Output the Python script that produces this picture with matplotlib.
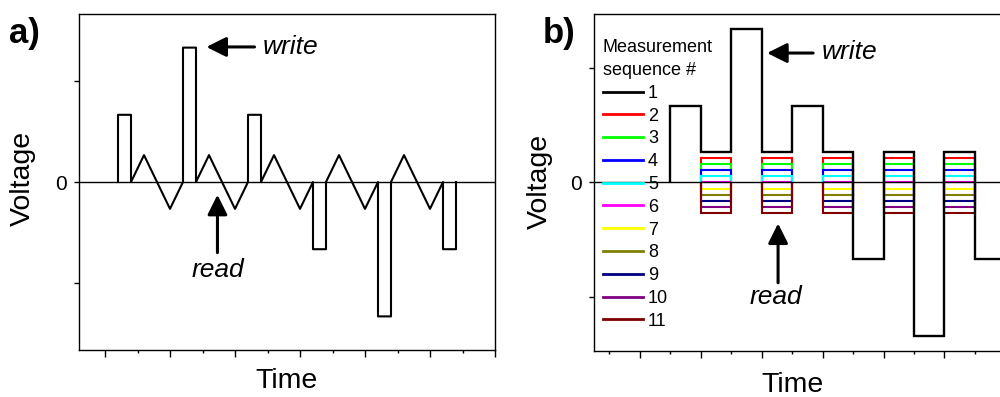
import numpy as np
import matplotlib.pyplot as plt
from matplotlib.ticker import MultipleLocator

plt.rcParams['font.family'] = ['Liberation Sans', 'DejaVu Sans']

# panel a: pulse train with triangular reads in between
pulse_levels_a = [2, 4, 2, -2, -4, -2]
pulse_starts_a = [0.2, 1.2, 2.2, 3.2, 4.2, 5.2]
pulse_width_a = 0.2
tri_amp_a = 0.8
tri_len_a = 0.8

# panel b: square read blocks, one level per measurement sequence
seg_edges_b = [0, 1, 2, 3, 4, 5, 6, 7, 8, 9, 10, 11]
black_levels_b = [2, 0.8, 4, 0.8, 2, 0.8, -2, 0.8, -4, 0.8, -2]
read_starts_b = [1, 3, 5, 7, 9]
read_levels = [0.8, 0.64, 0.48, 0.32, 0.16, 0.0, -0.16, -0.32, -0.48, -0.64, -0.8]
seq_labels = ['1', '2', '3', '4', '5', '6', '7', '8', '9', '10', '11']
seq_colors = ['#000000', '#ff0000', '#00ff00', '#0000ff', '#00ffff', '#ff00ff',
              '#ffff00', '#808000', '#000080', '#800080', '#800000']

fig = plt.figure(figsize=(10, 3.97), dpi=100)
ax_a = fig.add_axes([0.079, 0.1184, 0.416, 0.8463])
ax_b = fig.add_axes([0.594, 0.1159, 0.416, 0.8489])

# build panel a trace
ts, vs = [], []
for k, (t0, p) in enumerate(zip(pulse_starts_a, pulse_levels_a)):
    te = t0 + pulse_width_a
    ts += [t0, t0, te, te]
    vs += [0, p, p, 0]
    if k < len(pulse_levels_a) - 1:
        ts += [te + tri_len_a / 4, te + 3 * tri_len_a / 4, te + tri_len_a]
        vs += [tri_amp_a, -tri_amp_a, 0]
ax_a.plot(ts, vs, color='k', lw=1.5, zorder=3)

# panel b traces
handles = []
for i in range(1, len(read_levels)):
    for j, t0 in enumerate(read_starts_b):
        h = ax_b.stairs([read_levels[i]], [t0, t0 + 1], baseline=0,
                        color=seq_colors[i], lw=1.5, zorder=2)
        if j == 0:
            handles.append(h)
h1 = ax_b.stairs(black_levels_b, seg_edges_b, baseline=0, color='k', lw=1.7, zorder=3)
handles.insert(0, h1)

for ax in (ax_a, ax_b):
    ax.axhline(0, color='k', lw=1.0, zorder=4)
    for s in ax.spines.values():
        s.set_linewidth(1.0)
    ax.set_yticks([-3, 0, 3])
    ax.set_yticklabels(['', '0', ''])
    ax.tick_params(axis='y', direction='out', length=3.5, width=1.0, labelsize=15, pad=5)
    ax.tick_params(axis='x', which='major', direction='out', length=5, width=1.0, labelbottom=False)
    ax.tick_params(axis='x', which='minor', direction='out', length=2.5, width=1.0)
    ax.set_ylabel('Voltage', fontsize=20.5, va='center')
    ax.set_xlabel('Time', fontsize=20.5, va='center')

ax_a.set_xlim(-0.4, 6.0)
ax_a.set_ylim(-5, 5)
ax_a.xaxis.set_major_locator(MultipleLocator(1))
ax_a.xaxis.set_minor_locator(MultipleLocator(0.5))
ax_a.yaxis.set_label_coords(-0.1346, 0.512)
ax_a.xaxis.set_label_coords(0.5, -0.092)

ax_b.set_xlim(-2.5, 11.15)
ax_b.set_ylim(-4.4, 4.4)
ax_b.set_xticks([-1, 1, 3, 5, 7, 9, 11])
ax_b.set_xticks([-2, 0, 2, 4, 6, 8, 10], minor=True)
ax_b.yaxis.set_label_coords(-0.130, 0.504)
ax_b.xaxis.set_label_coords(0.478, -0.10)

# annotations
arrow = dict(arrowstyle='-|>,head_length=0.6,head_width=0.3', color='k', lw=2.2,
             mutation_scale=20, shrinkA=0, shrinkB=0)
ax_a.annotate('', xy=(1.56, 4.02), xytext=(2.30, 4.02), arrowprops=arrow)
ax_a.text(2.42, 3.81, 'write', fontsize=19, style='italic', ha='left', va='baseline')
ax_a.annotate('', xy=(1.73, -0.38), xytext=(1.73, -2.10), arrowprops=arrow)
ax_a.text(1.74, -2.84, 'read', fontsize=19, style='italic', ha='center', va='baseline')

ax_b.annotate('', xy=(3.18, 3.38), xytext=(4.69, 3.38), arrowprops=arrow)
ax_b.text(4.98, 3.22, 'write', fontsize=19, style='italic', ha='left', va='baseline')
ax_b.annotate('', xy=(3.54, -1.07), xytext=(3.54, -2.62), arrowprops=arrow)
ax_b.text(3.48, -3.17, 'read', fontsize=19, style='italic', ha='center', va='baseline')

leg = ax_b.legend(handles, seq_labels, title='Measurement\nsequence #', loc='upper left',
                  bbox_to_anchor=(0.0216, 0.925), frameon=False, fontsize=13,
                  title_fontsize=13, alignment='left', borderpad=0, labelspacing=0.32,
                  handlelength=2.2, handletextpad=0.3, borderaxespad=0)
leg.get_title().set_linespacing(1.45)
for lh in leg.legend_handles:
    lh.set_linewidth(2.0)

fig.text(0.009, 0.892, 'a)', fontsize=25, fontweight='bold', va='baseline')
fig.text(0.543, 0.892, 'b)', fontsize=25, fontweight='bold', va='baseline')

fig.savefig('out.png', dpi=100)
